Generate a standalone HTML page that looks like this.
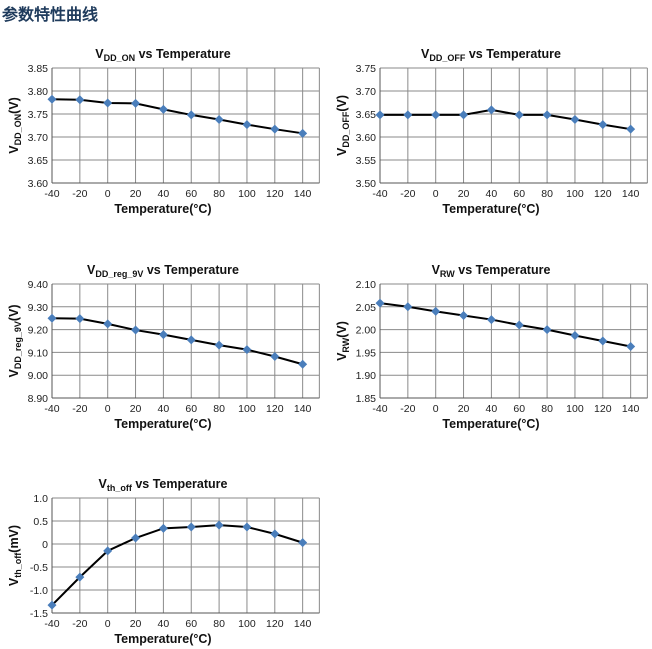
<!DOCTYPE html>
<html><head><meta charset="utf-8"><style>
body{margin:0;background:#fff;width:652px;height:649px;overflow:hidden}
svg{display:block}
text{font-family:"Liberation Sans",Arial,sans-serif}
</style></head><body>
<svg id="s" width="652" height="649" xmlns="http://www.w3.org/2000/svg">
<text x="2" y="20" font-family="'Liberation Sans','Noto Sans CJK SC',sans-serif" font-size="16" font-weight="bold" fill="#1f3b5c">参数特性曲线</text>
</svg>
<script>
const s=document.getElementById('s');
const charts=[
 {x0:52,yt:68,yb:183,min:3.60,max:3.85,lab:['3.60','3.65','3.70','3.75','3.80','3.85'],title:['V','DD_ON',' vs Temperature'],yl:['V','DD_ON','(V)'],
  d:[3.782,3.781,3.774,3.773,3.760,3.748,3.738,3.727,3.717,3.708]},
 {x0:380,yt:68,yb:183,min:3.50,max:3.75,lab:['3.50','3.55','3.60','3.65','3.70','3.75'],title:['V','DD_OFF',' vs Temperature'],yl:['V','DD_OFF','(V)'],
  d:[3.648,3.648,3.648,3.648,3.659,3.648,3.648,3.638,3.627,3.617]},
 {x0:52,yt:284,yb:398,min:8.90,max:9.40,lab:['8.90','9.00','9.10','9.20','9.30','9.40'],title:['V','DD_reg_9V',' vs Temperature'],yl:['V','DD_reg_9V','(V)'],
  d:[9.250,9.248,9.225,9.198,9.178,9.155,9.132,9.112,9.082,9.048]},
 {x0:380,yt:284,yb:398,min:1.85,max:2.10,lab:['1.85','1.90','1.95','2.00','2.05','2.10'],title:['V','RW',' vs Temperature'],yl:['V','RW','(V)'],
  d:[2.058,2.050,2.040,2.031,2.022,2.010,2.000,1.987,1.975,1.963]},
 {x0:52,yt:498,yb:613,min:-1.5,max:1.0,lab:['-1.5','-1.0','-0.5','0','0.5','1.0'],title:['V','th_off',' vs Temperature'],yl:['V','th_off','(mV)'],
  d:[-1.33,-0.72,-0.15,0.13,0.34,0.37,0.41,0.37,0.22,0.03]}
];
let h='';
const st=27.85;
for(const c of charts){
 const x1=c.x0+st*9.6;
 const Y=v=>c.yb-(v-c.min)/(c.max-c.min)*(c.yb-c.yt);
 for(let i=0;i<6;i++){const y=c.yt+i*(c.yb-c.yt)/5;h+=`<line x1="${c.x0}" x2="${x1}" y1="${y}" y2="${y}" stroke="#8a8a8a" stroke-width="1"/>`;
  h+=`<text x="${c.x0-4}" y="${c.yb-i*(c.yb-c.yt)/5+4}" font-size="10.5" text-anchor="end" fill="#222">${c.lab[i]}</text>`;}
 for(let i=0;i<=9;i++){const x=c.x0+i*st;h+=`<line x1="${x}" x2="${x}" y1="${c.yt}" y2="${c.yb}" stroke="#8a8a8a" stroke-width="1"/>`;
  h+=`<text x="${x}" y="${c.yb+14}" font-size="10.5" text-anchor="middle" fill="#222">${-40+20*i}</text>`;}
 h+=`<line x1="${x1}" x2="${x1}" y1="${c.yt}" y2="${c.yb}" stroke="#8a8a8a"/>`;
 h+=`<line x1="${c.x0}" x2="${c.x0}" y1="${c.yt}" y2="${c.yb}" stroke="#555"/>`;
 h+=`<line x1="${c.x0}" x2="${x1}" y1="${c.yb}" y2="${c.yb}" stroke="#555"/>`;
 const pts=c.d.map((v,i)=>[c.x0+i*st,Y(v)]);
 h+=`<polyline points="${pts.map(p=>p.join(',')).join(' ')}" fill="none" stroke="#000" stroke-width="2"/>`;
 for(const [x,y] of pts)h+=`<path d="M${x} ${y-4.5}L${x+4.5} ${y}L${x} ${y+4.5}L${x-4.5} ${y}Z" fill="#4a7ebb"/>`;
 const cx=c.x0+111;
 h+=`<text x="${cx}" y="${c.yt-10}" font-size="12.5" font-weight="bold" text-anchor="middle" fill="#111">${c.title[0]}<tspan font-size="9" dy="3">${c.title[1]}</tspan><tspan dy="-3">${c.title[2]}</tspan></text>`;
 h+=`<text x="${cx}" y="${c.yb+30}" font-size="12.5" font-weight="bold" text-anchor="middle" fill="#111">Temperature(°C)</text>`;
 const ym=(c.yt+c.yb)/2, lx=c.x0-34;
 h+=`<text transform="translate(${lx},${ym}) rotate(-90)" font-size="12.5" font-weight="bold" text-anchor="middle" fill="#111">${c.yl[0]}<tspan font-size="9" dy="3">${c.yl[1]}</tspan><tspan dy="-3">${c.yl[2]}</tspan></text>`;
}
s.insertAdjacentHTML('beforeend',h);
</script>
</body></html>
